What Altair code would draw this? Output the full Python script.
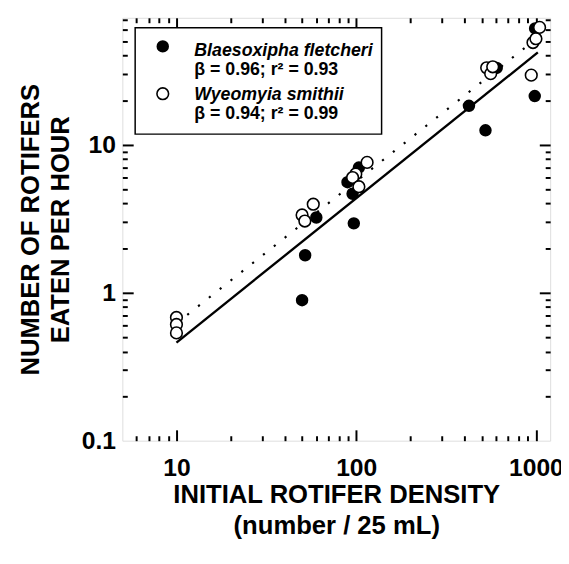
import altair as alt
import pandas as pd

# ---- data ----
blaes_x = [50, 52, 60, 97, 95.5, 89.5, 103.5, 424, 524, 605, 985, 990]
blaes_y = [0.89, 1.79, 3.22, 2.94, 4.66, 5.58, 7.0, 18.3, 12.5, 33.0, 21.3, 61]
wyeo_x = [10, 10, 10, 50, 51.8, 57.7, 115, 99.5, 95.5, 103.5, 532, 560, 575, 942, 963, 1000, 1048]
wyeo_y = [0.68, 0.61, 0.535, 3.35, 3.05, 3.96, 7.59, 6.34, 6.0, 5.2, 33.1, 30.2, 33.6, 29.5, 49, 52, 62]

solid_x = [10, 1025]
solid_y = [0.46, 42]
dotted_x = [10, 1000]
dotted_y = [0.62, 51.7]

x_domain = [5, 1200]
y_domain = [0.1, 72]
x_major = [10, 100, 1000]
x_minor = [6, 7, 8, 9, 20, 30, 40, 50, 60, 70, 80, 90, 200, 300, 400, 500, 600, 700, 800, 900]
y_major = [0.1, 1, 10]
y_minor = [0.2, 0.3, 0.4, 0.5, 0.6, 0.7, 0.8, 0.9, 2, 3, 4, 5, 6, 7, 8, 9, 20, 30, 40, 50, 60, 70]

legend_names = ["Blaesoxipha fletcheri", "Wyeomyia smithii"]
legend_stats = ["\u03b2 = 0.96; r\u00b2 = 0.93", "\u03b2 = 0.94; r\u00b2 = 0.99"]

x_title = ["INITIAL ROTIFER DENSITY", "(number / 25 mL)"]
y_title = ["NUMBER OF ROTIFERS", "EATEN PER HOUR"]

FONT = "Liberation Sans"
W, H = 434, 429
MAJ, MIN = 11, 5
PT_FILLED, PT_OPEN = 160, 140

blaes = pd.DataFrame({"x": blaes_x, "y": blaes_y})
wyeo = pd.DataFrame({"x": wyeo_x, "y": wyeo_y})
solid = pd.DataFrame({"x": solid_x, "y": solid_y})
dotted = pd.DataFrame({"x": dotted_x, "y": dotted_y})
one = pd.DataFrame({"a": [0]})

xs = alt.Scale(type="log", domain=x_domain, nice=False)
ys = alt.Scale(type="log", domain=y_domain, nice=False)


def tick_axis(orient, values, size):
    return alt.Axis(orient=orient, values=values, labels=False, domain=False, grid=False,
                    ticks=True, tickSize=size, tickWidth=2, tickColor="black", offset=-size)


x_lab_axis = alt.Axis(orient="bottom", values=x_major, format="~g", ticks=False, domain=False,
                      grid=False, labelFont=FONT, labelFontSize=25, labelFontWeight="bold",
                      labelColor="black", labelPadding=15, labelFlush=False, labelOverlap=False,
                      labelBound=False, title=x_title, titleFont=FONT, titleFontSize=26,
                      titleFontWeight="bold", titleColor="black", titlePadding=2,
                      titleLineHeight=31)
y_lab_axis = alt.Axis(orient="left", values=y_major, format="~g", ticks=False, domain=False,
                      grid=False, labelFont=FONT, labelFontSize=25, labelFontWeight="bold",
                      labelColor="black", labelPadding=7, labelFlush=False, labelOverlap=False,
                      labelBound=False, title=y_title, titleFont=FONT, titleFontSize=26,
                      titleFontWeight="bold", titleColor="black", titlePadding=8,
                      titleLineHeight=30)


def enc(chart, xaxis, yaxis, title=True):
    return chart.encode(
        x=alt.X("x:Q", scale=xs, axis=xaxis, title=x_title if title else None),
        y=alt.Y("y:Q", scale=ys, axis=yaxis, title=y_title if title else None),
    )


solid_line = enc(alt.Chart(solid).mark_line(color="black", strokeWidth=2.4, clip=True),
                 tick_axis("bottom", x_major, MAJ), tick_axis("left", y_major[1:], MAJ), False)
dotted_line = enc(alt.Chart(dotted).mark_line(color="black", strokeWidth=2.2, strokeDash=[2.2, 11.8],
                                              clip=True),
                  tick_axis("bottom", x_minor, MIN), tick_axis("left", y_minor, MIN), False)
filled_pts = enc(alt.Chart(blaes).mark_point(shape="circle", filled=True, size=PT_FILLED,
                                             color="black", opacity=1),
                 x_lab_axis, y_lab_axis, True)
open_pts = enc(alt.Chart(wyeo).mark_point(shape="circle", filled=True, size=PT_OPEN, fill="white",
                                          stroke="black", strokeWidth=1.6, opacity=1),
               tick_axis("top", x_major, MAJ), tick_axis("right", y_major[1:], MAJ), False)
ghost = enc(alt.Chart(wyeo).mark_point(opacity=0),
            tick_axis("top", x_minor, MIN), tick_axis("right", y_minor, MIN), False)

legend_box = alt.Chart(one).mark_rect(fill="white", stroke="black", strokeWidth=1.5).encode(
    x=alt.value(13), x2=alt.value(263), y=alt.value(10), y2=alt.value(118))
leg_filled = alt.Chart(one).mark_point(shape="circle", filled=True, size=PT_FILLED, color="black",
                                       opacity=1).encode(x=alt.value(41), y=alt.value(29))
leg_open = alt.Chart(one).mark_point(shape="circle", filled=True, size=PT_OPEN, fill="white",
                                     stroke="black", strokeWidth=1.6, opacity=1).encode(
    x=alt.value(41), y=alt.value(77))


def leg_text(txt, y, italic):
    return alt.Chart(one).mark_text(align="left", baseline="alphabetic", font=FONT, fontSize=18,
                                    fontWeight="bold", fontStyle="italic" if italic else "normal",
                                    color="black").encode(
        x=alt.value(73), y=alt.value(y), text=alt.value(txt))


chart = alt.layer(
    solid_line, dotted_line, filled_pts, open_pts, ghost,
    legend_box, leg_filled, leg_open,
    leg_text(legend_names[0], 39, True), leg_text(legend_stats[0], 58, False),
    leg_text(legend_names[1], 83, True), leg_text(legend_stats[1], 103, False),
).resolve_axis(x="independent", y="independent").properties(
    width=W, height=H,
    autosize=alt.AutoSizeParams(type="none"),
    padding={"left": 116, "top": 6, "right": 11, "bottom": 110},
).configure_view(stroke="black", strokeWidth=2).configure(background="white")

chart.save("out.html", embed_options={"renderer": "svg", "actions": False})
